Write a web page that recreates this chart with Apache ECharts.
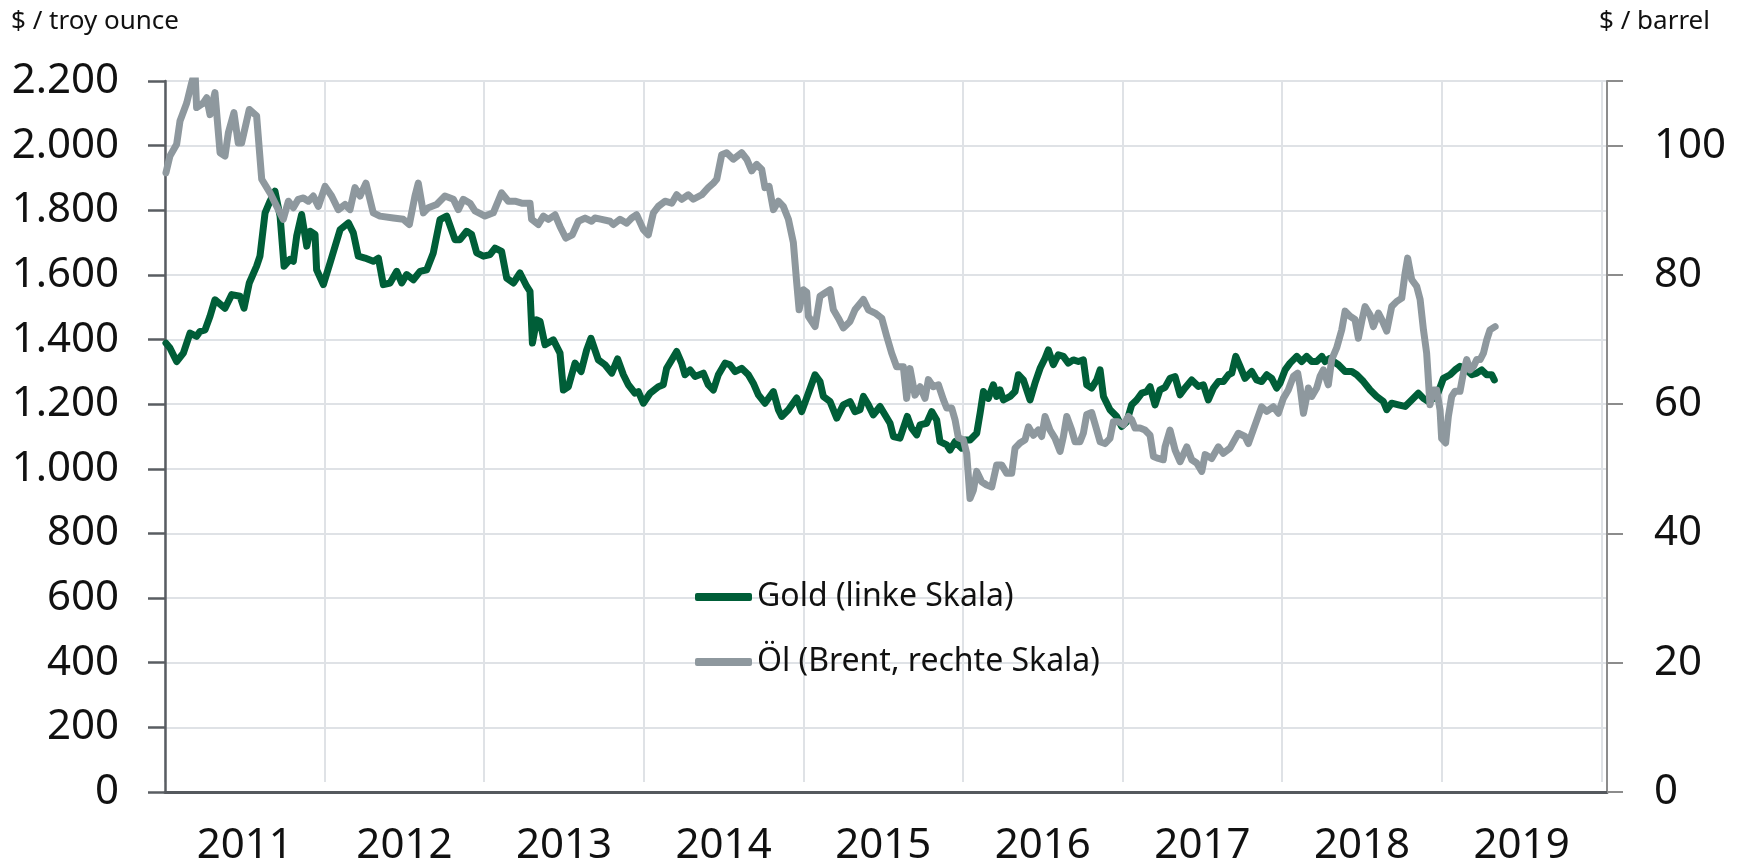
<!DOCTYPE html>
<html><head><meta charset="utf-8">
<script src="https://cdn.jsdelivr.net/npm/echarts@6/dist/echarts.min.js"></script>
<style>html,body{margin:0;padding:0;background:#fff}#c{width:1744px;height:867px}</style>
</head><body><div id="c"></div>
<script>
// ---- DATA ----
const yearLabels = ['2011','2012','2013','2014','2015','2016','2017','2018','2019'];
const seriesNames = ['Gold (linke Skala)', 'Öl (Brent, rechte Skala)'];

// time as decimal years
const goldT = [
2011.006,2011.031,2011.073,2011.115,2011.157,2011.198,2011.219,2011.251,2011.282,2011.313,2011.376,2011.418,2011.470,2011.495,2011.528,2011.574,2011.595,2011.627,2011.658,2011.689,2011.721,2011.746,2011.783,2011.804,2011.825,2011.856,2011.888,2011.909,2011.940,2011.950,2011.992,
2012.034,2012.097,2012.149,2012.180,2012.211,2012.253,2012.305,2012.337,2012.368,2012.410,2012.452,2012.483,2012.514,2012.556,2012.598,2012.640,2012.681,2012.723,2012.765,2012.817,2012.848,2012.890,2012.921,2012.953,2012.995,
2013.036,2013.068,2013.109,2013.141,2013.183,2013.224,2013.266,2013.287,2013.302,2013.329,2013.350,2013.381,2013.433,2013.475,2013.496,2013.527,2013.569,2013.607,2013.642,2013.669,2013.715,2013.757,2013.799,2013.836,2013.872,2013.903,2013.945,2013.966,2013.997,
2014.039,2014.091,2014.122,2014.143,2014.175,2014.206,2014.237,2014.258,2014.290,2014.321,2014.373,2014.404,2014.436,2014.467,2014.509,2014.540,2014.572,2014.613,2014.655,2014.686,2014.718,2014.759,2014.812,2014.843,2014.864,2014.906,2014.958,2014.989,
2015.031,2015.073,2015.104,2015.125,2015.167,2015.209,2015.250,2015.292,2015.323,2015.355,2015.376,2015.407,2015.438,2015.480,2015.511,2015.543,2015.564,2015.605,2015.651,2015.678,2015.710,2015.731,2015.772,2015.804,2015.835,2015.856,2015.898,2015.919,2015.950,2015.992,
2016.013,2016.044,2016.086,2016.107,2016.128,2016.159,2016.190,2016.211,2016.232,2016.253,2016.295,2016.326,2016.347,2016.378,2016.420,2016.451,2016.483,2016.514,2016.535,2016.566,2016.597,2016.629,2016.660,2016.691,2016.723,2016.754,2016.775,2016.806,2016.838,2016.859,2016.880,2016.921,2016.963,2016.994,
2017.026,2017.057,2017.088,2017.120,2017.151,2017.172,2017.203,2017.234,2017.266,2017.297,2017.329,2017.360,2017.391,2017.433,2017.475,2017.506,2017.537,2017.569,2017.600,2017.631,2017.663,2017.684,2017.709,2017.736,2017.767,2017.809,2017.840,2017.871,2017.903,2017.934,2017.965,2017.986,
2018.018,2018.049,2018.091,2018.122,2018.153,2018.185,2018.216,2018.248,2018.268,2018.300,2018.321,2018.352,2018.394,2018.436,2018.467,2018.509,2018.551,2018.592,2018.634,2018.655,2018.686,2018.728,2018.770,2018.811,2018.853,2018.885,2018.916,2018.968,
2019.010,2019.052,2019.083,2019.114,2019.156,2019.188,2019.219,2019.250,2019.281,2019.313,2019.329
];
const goldV = [
1389,1374,1332,1358,1420,1410,1425,1430,1472,1523,1497,1539,1534,1497,1575,1627,1658,1792,1828,1859,1782,1627,1648,1642,1720,1787,1689,1735,1725,1616,1570,
1637,1740,1761,1730,1658,1652,1642,1652,1570,1575,1611,1575,1601,1585,1611,1616,1668,1771,1782,1709,1709,1735,1725,1668,1658,
1663,1683,1673,1590,1575,1606,1565,1549,1389,1461,1456,1384,1399,1358,1244,1254,1327,1301,1368,1404,1337,1322,1296,1340,1291,1260,1234,1239,1203,
1234,1254,1260,1311,1337,1363,1327,1291,1306,1286,1296,1260,1244,1291,1327,1322,1301,1311,1291,1265,1229,1203,1239,1183,1162,1183,1219,1177,
1234,1291,1270,1224,1208,1157,1198,1208,1177,1183,1224,1198,1167,1193,1167,1141,1100,1095,1162,1126,1105,1136,1141,1177,1151,1084,1074,1058,1084,1064,
1089,1089,1110,1172,1239,1218,1260,1224,1244,1213,1224,1239,1291,1275,1213,1265,1311,1342,1368,1322,1353,1348,1327,1337,1332,1337,1260,1250,1275,1306,1224,1183,1162,1131,
1146,1198,1213,1234,1239,1254,1198,1244,1252,1280,1285,1229,1250,1275,1255,1260,1213,1250,1270,1270,1291,1296,1348,1317,1280,1301,1275,1270,1291,1280,1250,1265,
1306,1327,1348,1332,1348,1332,1332,1348,1332,1342,1332,1322,1301,1301,1291,1270,1244,1224,1208,1183,1203,1198,1193,1213,1234,1218,1208,1224,
1280,1291,1306,1317,1306,1291,1296,1306,1291,1291,1275
];

const oilT = [
2011.006,2011.031,2011.073,2011.094,2011.136,2011.167,2011.188,2011.198,2011.240,2011.261,2011.282,2011.313,2011.345,2011.376,2011.397,2011.432,2011.459,2011.480,2011.528,2011.574,2011.606,2011.658,2011.700,2011.741,2011.773,2011.804,2011.835,2011.867,2011.898,2011.929,2011.961,
2012.003,2012.044,2012.086,2012.128,2012.159,2012.190,2012.222,2012.259,2012.305,2012.347,2012.431,2012.493,2012.531,2012.566,2012.587,2012.619,2012.650,2012.702,2012.754,2012.807,2012.838,2012.869,2012.911,2012.942,
2013.005,2013.057,2013.109,2013.151,2013.193,2013.235,2013.287,2013.297,2013.339,2013.371,2013.402,2013.444,2013.475,2013.511,2013.552,2013.590,2013.632,2013.673,2013.694,2013.736,2013.788,2013.809,2013.851,2013.893,2013.924,2013.955,2013.997,
2014.028,2014.060,2014.091,2014.133,2014.175,2014.206,2014.237,2014.279,2014.310,2014.363,2014.404,2014.436,2014.457,2014.488,2014.519,2014.561,2014.613,2014.645,2014.676,2014.707,2014.739,2014.759,2014.785,2014.812,2014.843,2014.874,2014.906,2014.937,2014.958,2014.973,
2015.000,2015.021,2015.031,2015.073,2015.104,2015.135,2015.167,2015.188,2015.219,2015.250,2015.292,2015.323,2015.376,2015.407,2015.449,2015.491,2015.522,2015.553,2015.584,2015.626,2015.647,2015.668,2015.699,2015.731,2015.762,2015.783,2015.814,2015.846,2015.877,2015.898,2015.929,2015.950,2015.971,
2016.002,2016.023,2016.044,2016.065,2016.086,2016.117,2016.148,2016.180,2016.211,2016.242,2016.274,2016.305,2016.326,2016.357,2016.389,2016.410,2016.441,2016.472,2016.493,2016.514,2016.545,2016.577,2016.608,2016.629,2016.650,2016.681,2016.702,2016.733,2016.754,2016.775,2016.806,2016.838,2016.859,2016.890,2016.921,2016.942,2016.973,
2017.005,2017.036,2017.057,2017.078,2017.109,2017.140,2017.172,2017.193,2017.224,2017.255,2017.266,2017.297,2017.329,2017.360,2017.402,2017.433,2017.464,2017.496,2017.517,2017.558,2017.600,2017.631,2017.673,2017.725,2017.767,2017.788,2017.830,2017.871,2017.903,2017.945,2017.976,
2018.007,2018.038,2018.070,2018.097,2018.112,2018.133,2018.164,2018.185,2018.216,2018.237,2018.258,2018.289,2018.310,2018.341,2018.373,2018.394,2018.425,2018.456,2018.477,2018.498,2018.519,2018.551,2018.571,2018.603,2018.624,2018.655,2018.686,2018.718,2018.749,2018.770,2018.786,2018.811,2018.843,2018.864,2018.885,2018.905,2018.926,2018.947,2018.968,2018.989,2018.999,
2019.024,2019.041,2019.062,2019.083,2019.114,2019.135,2019.156,2019.177,2019.198,2019.219,2019.240,2019.261,2019.281,2019.302,2019.334
];
const oilV = [
95.8,98.4,100.2,103.8,106.6,109.7,111.5,105.9,106.6,107.4,104.8,108.2,98.9,98.4,102.0,105.1,100.4,100.4,105.6,104.6,94.8,92.7,90.6,88.6,91.4,90.4,91.7,91.9,91.4,92.2,90.6,
93.7,92.2,90.1,90.9,90.1,93.5,92.2,94.2,89.6,89.1,88.8,88.6,87.8,92.2,94.2,89.6,90.4,90.9,92.2,91.7,90.1,91.7,91.1,89.9,
89.1,89.6,92.7,91.4,91.4,91.1,91.1,88.6,87.8,89.1,88.6,89.3,87.5,85.7,86.2,88.3,88.8,88.3,88.8,88.6,88.3,87.8,88.6,88.0,88.8,89.3,87.0,
86.2,89.6,90.6,91.4,91.1,92.4,91.7,92.4,91.7,92.4,93.5,94.2,94.8,98.6,98.9,97.9,98.9,97.9,96.1,97.1,96.3,93.5,93.7,90.1,91.4,90.6,88.6,85.0,78.8,74.6,
77.7,77.3,73.6,72.0,76.7,77.2,77.7,74.6,73.3,71.8,72.8,74.6,76.2,74.6,74.1,73.3,70.5,67.9,65.8,65.8,60.9,65.5,61.4,62.7,60.9,63.8,62.7,63.0,60.7,59.4,59.4,57.6,54.8,
54.5,52.4,45.4,46.7,49.6,48.0,47.5,47.2,50.6,50.6,49.3,49.3,53.2,54.0,54.5,56.5,55.2,56.0,55.0,58.1,56.0,54.7,52.7,55.0,58.1,56.0,54.2,54.2,55.5,58.4,58.7,56.0,54.2,53.9,54.7,57.3,57.3,
56.8,58.1,57.6,56.3,56.3,56.0,55.2,51.9,51.6,51.4,53.4,56.0,52.9,51.1,53.4,51.4,50.9,49.6,52.2,51.6,53.4,52.4,53.2,55.5,55.0,53.9,56.8,59.6,58.9,59.6,58.6,
60.9,62.2,64.3,64.8,62.7,58.6,62.5,61.2,62.5,64.3,65.3,63.0,66.9,68.7,71.5,74.4,73.6,73.1,70.2,72.8,75.1,73.8,72.0,74.1,73.1,71.3,75.1,75.9,76.4,80.3,82.6,79.3,78.2,76.2,71.5,67.9,59.9,62.2,62.2,59.1,54.7,
54.0,58.1,61.2,62.0,62.0,64.8,66.9,65.3,65.8,66.9,66.9,67.9,69.9,71.5,72.0
];

// ---- LAYOUT / STYLE ----
const FONT = 'Noto Sans';
const W = 1744, H = 867;
const gridLeft = 165, gridRight = 137, gridTop = 81, gridBottom = 75;
const xMin = 2011, xMax = 2020.035;
const plotW = W - gridLeft - gridRight;
const grid2Right = gridRight + plotW * (xMax - 2020) / (xMax - xMin);
const GOLD = '#005e38', OIL = '#8e989e', GRIDC = '#dfe2e6', TXT = '#111';
const LABEL_SIZE = 42;

function deNum(v) {
  if (v >= 1000) { const t = Math.floor(v / 1000); const r = v % 1000; return t + '.' + String(r).padStart(3, '0'); }
  return String(v);
}
function pairs(t, v) { return t.map((x, i) => [x, v[i]]); }

const chart = echarts.init(document.getElementById('c'), null, {renderer: 'canvas'});
chart.setOption({
  animation: false,
  backgroundColor: '#fff',
  textStyle: {fontFamily: FONT},
  title: [
    {text: '$ / troy ounce', left: 11, top: 9, padding: 0, textStyle: {fontFamily: FONT, fontSize: 26, fontWeight: 'normal', color: TXT}},
    {text: '$ / barrel', left: 1599, top: 9, padding: 0, textStyle: {fontFamily: FONT, fontSize: 26, fontWeight: 'normal', color: TXT}}
  ],
  legend: {
    data: seriesNames, orient: 'vertical', left: 695, top: 581, padding: 0,
    itemGap: 33, itemWidth: 57, itemHeight: 8, icon: 'roundRect',
    textStyle: {fontFamily: FONT, fontSize: 32, color: TXT}
  },
  grid: [
    {left: gridLeft, right: gridRight, top: gridTop, bottom: gridBottom},
    {left: gridLeft, right: grid2Right, top: gridTop, bottom: gridBottom}
  ],
  xAxis: [
    {type: 'value', gridIndex: 0, min: xMin, max: xMax,
     axisLine: {show: true, onZero: false, lineStyle: {color: '#55595e', width: 3}},
     axisTick: {show: false}, axisLabel: {show: false}, splitLine: {show: false}},
    {type: 'category', gridIndex: 1, data: yearLabels, boundaryGap: true,
     axisLine: {show: false}, axisTick: {show: false},
     axisLabel: {fontFamily: FONT, fontSize: LABEL_SIZE, color: TXT, margin: 43, lineHeight: 42},
     splitLine: {show: true, lineStyle: {color: GRIDC, width: 2}}}
  ],
  yAxis: [
    {type: 'value', gridIndex: 0, min: 0, max: 2200, interval: 200, position: 'left',
     axisLine: {show: true, lineStyle: {color: '#595d62', width: 2.5}},
     axisTick: {show: true, inside: false, length: 17, lineStyle: {color: '#595d62', width: 2.5}},
     axisLabel: {formatter: deNum, fontFamily: FONT, fontSize: LABEL_SIZE, color: TXT, margin: 46},
     splitLine: {show: true, lineStyle: {color: GRIDC, width: 2}}},
    {type: 'value', gridIndex: 0, min: 0, max: 110, interval: 20, position: 'right',
     axisLine: {show: true, lineStyle: {color: '#8c8c8c', width: 2}},
     axisTick: {show: true, inside: false, length: 16, lineStyle: {color: '#8c8c8c', width: 2}},
     axisLabel: {formatter: v => (v > 100 ? '' : String(v)), fontFamily: FONT, fontSize: LABEL_SIZE, color: TXT, margin: 47},
     splitLine: {show: false}},
    {type: 'value', gridIndex: 1, min: 0, max: 1, show: false,
     axisLine: {show: false}, axisTick: {show: false}, axisLabel: {show: false}, splitLine: {show: false}}
  ],
  series: [
    {name: seriesNames[0], type: 'line', xAxisIndex: 0, yAxisIndex: 0, data: pairs(goldT, goldV),
     showSymbol: false, symbol: 'none', clip: true, color: GOLD,
     lineStyle: {color: GOLD, width: 7, cap: 'round', join: 'round'}, z: 3},
    {name: seriesNames[1], type: 'line', xAxisIndex: 0, yAxisIndex: 1, data: pairs(oilT, oilV),
     showSymbol: false, symbol: 'none', clip: true, color: OIL,
     lineStyle: {color: OIL, width: 7, cap: 'round', join: 'round'}, z: 4}
  ]
});
</script>
</body></html>
